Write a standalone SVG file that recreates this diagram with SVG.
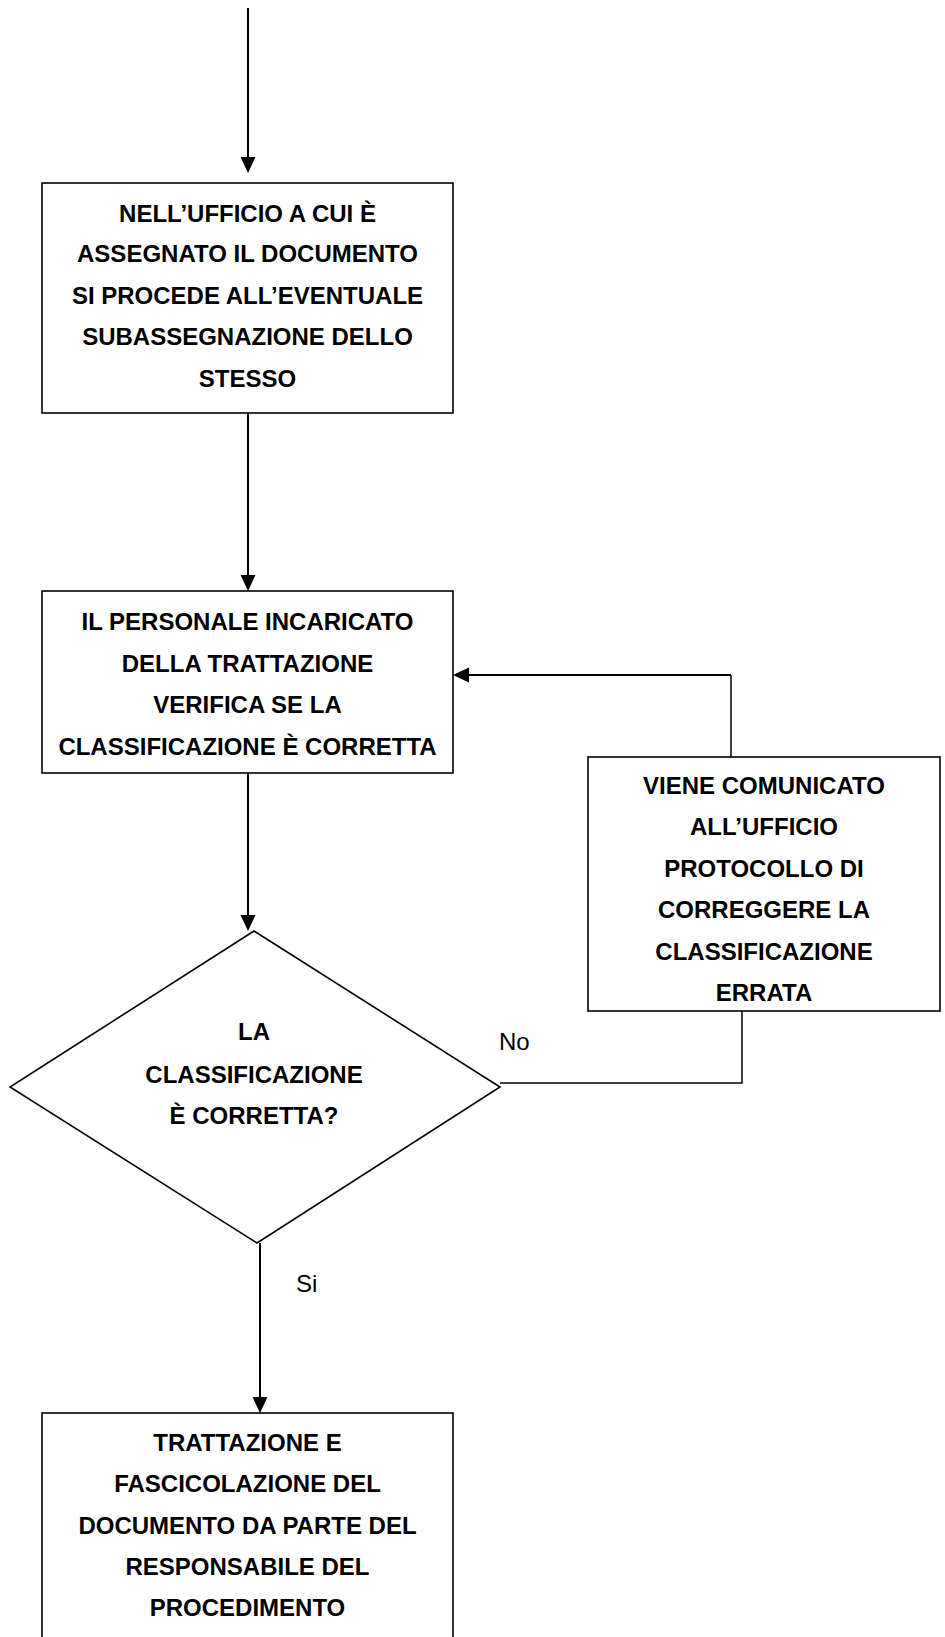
<svg xmlns="http://www.w3.org/2000/svg" width="945" height="1637" viewBox="0 0 945 1637">
<style>
.box{fill:#fff;stroke:#000;stroke-width:1.6}
.t{font-family:"Liberation Sans",Arial,sans-serif;font-weight:bold;font-size:24px;fill:#000;text-anchor:middle}
.lbl{font-family:"Liberation Sans",Arial,sans-serif;font-size:24px;fill:#000}
.c{fill:none;stroke:#000;stroke-width:2}
.c1{fill:none;stroke:#000;stroke-width:1.5}
.ah{fill:#000;stroke:none}
</style>
<rect width="945" height="1637" fill="#fff"/>
<g id="connectors">
  <line class="c" x1="248" y1="8" x2="248" y2="160"/>
  <polygon class="ah" points="240.5,157 255.5,157 248,173"/>
  <line class="c" x1="248" y1="413" x2="248" y2="578"/>
  <polygon class="ah" points="240.5,575 255.5,575 248,591"/>
  <polyline class="c1" points="731,757 731,675"/>
  <line class="c" x1="731" y1="675" x2="466" y2="675"/>
  <polygon class="ah" points="469,667.5 469,682.5 453,675"/>
  <line class="c" x1="248" y1="773" x2="248" y2="918"/>
  <polygon class="ah" points="240.5,915 255.5,915 248,931"/>
  <polyline class="c1" points="742,1011 742,1083 500,1083"/>
  <line class="c" x1="260" y1="1243" x2="260" y2="1400"/>
  <polygon class="ah" points="252.5,1397 267.5,1397 260,1413"/>
  <text class="lbl" x="499" y="1050">No</text>
  <text class="lbl" x="296" y="1292">Si</text>
</g>
<g id="n1">
  <rect class="box" x="42" y="183" width="411" height="230"/>
  <text class="t" x="247.5" y="221.5">NELL’UFFICIO A CUI È</text>
  <text class="t" x="247.5" y="262">ASSEGNATO IL DOCUMENTO</text>
  <text class="t" x="247.5" y="303.5">SI PROCEDE ALL’EVENTUALE</text>
  <text class="t" x="247.5" y="345">SUBASSEGNAZIONE DELLO</text>
  <text class="t" x="247.5" y="386.5">STESSO</text>
</g>
<g id="n2">
  <rect class="box" x="42" y="591" width="411" height="182"/>
  <text class="t" x="247.5" y="630">IL PERSONALE INCARICATO</text>
  <text class="t" x="247.5" y="671.5">DELLA TRATTAZIONE</text>
  <text class="t" x="247.5" y="713">VERIFICA SE LA</text>
  <text class="t" x="247.5" y="754.5">CLASSIFICAZIONE È CORRETTA</text>
</g>
<g id="n3">
  <rect class="box" x="588" y="757" width="352" height="254"/>
  <text class="t" x="764" y="793.5">VIENE COMUNICATO</text>
  <text class="t" x="764" y="835">ALL’UFFICIO</text>
  <text class="t" x="764" y="876.5">PROTOCOLLO DI</text>
  <text class="t" x="764" y="918">CORREGGERE LA</text>
  <text class="t" x="764" y="959.5">CLASSIFICAZIONE</text>
  <text class="t" x="764" y="1001">ERRATA</text>
</g>
<g id="n4">
  <polygon class="box" points="254,931 500,1087 257,1243 10,1087"/>
  <text class="t" x="254" y="1040">LA</text>
  <text class="t" x="254" y="1083">CLASSIFICAZIONE</text>
  <text class="t" x="254" y="1124">È CORRETTA?</text>
</g>
<g id="n5">
  <rect class="box" x="42" y="1413" width="411" height="240"/>
  <text class="t" x="247.5" y="1451">TRATTAZIONE E</text>
  <text class="t" x="247.5" y="1492">FASCICOLAZIONE DEL</text>
  <text class="t" x="247.5" y="1533.5">DOCUMENTO DA PARTE DEL</text>
  <text class="t" x="247.5" y="1575">RESPONSABILE DEL</text>
  <text class="t" x="247.5" y="1616">PROCEDIMENTO</text>
</g>
</svg>
